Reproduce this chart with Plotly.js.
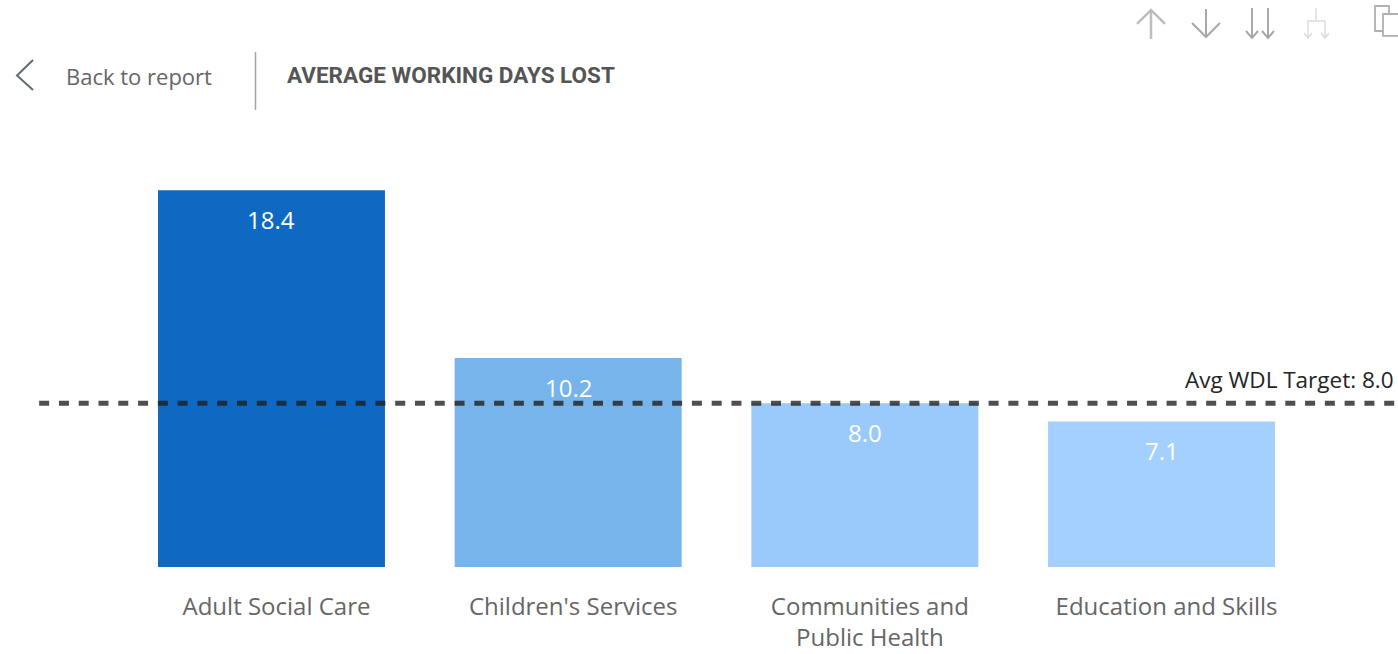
<!DOCTYPE html>
<html>
<head>
<meta charset="utf-8">
<title>Average Working Days Lost</title>
<script src="https://cdn.plot.ly/plotly-3.0.1.min.js"></script>
<style>
  html, body { margin: 0; padding: 0; background: #fff; overflow: hidden; }
  #chart { width: 1398px; height: 654px; }
</style>
</head>
<body>
<div id="chart"></div>
<script>
const departments = ["Adult Social Care", "Children's Services", "Communities and<br>Public Health", "Education and Skills"];
const positions = [0, 1, 2, 3];
const workingDaysLost = [18.4, 10.2, 8.0, 7.1];
const barColors = ["#0F69C2", "#78B4EC", "#99CAFB", "#A3D0FF"];
const targetValue = 8.0;
const targetLabel = "Avg WDL Target: " + targetValue.toFixed(1);
const targetSpan = [-0.783, 3.85];

const W = 1398, H = 654, BASE = 567.5;
const px = v => (v / W).toFixed(5);
const py = v => ((BASE - v) / BASE).toFixed(5);

// Polyline in page pixels, used for the report toolbar glyphs.
function pathShape(points, color, width) {
  const d = points.map((p, i) => (i ? "L" : "M") + px(p[0]) + "," + py(p[1])).join(" ");
  return { type: "path", xref: "paper", yref: "paper", path: d,
           line: { color, width }, layer: "above" };
}

const ICON = "#BDBDBD", ICON_DARK = "#A8A8A8", ICON_PALE = "#DCDCDC";
const chromeShapes = [
  // back chevron and header divider
  pathShape([[33, 60], [17, 75.5], [33, 90]], "#5F6B78", 2),
  pathShape([[255.5, 52], [255.5, 110]], "#A6A6A6", 1.5),
  // up arrow
  pathShape([[1151, 39], [1151, 10]], ICON, 2.5),
  pathShape([[1137, 24], [1151, 10], [1165, 24]], ICON, 2.5),
  // down arrow
  pathShape([[1206, 9], [1206, 37]], ICON_DARK, 2),
  pathShape([[1192, 23], [1206, 37], [1220, 23]], ICON_DARK, 2),
  // double down arrow
  pathShape([[1252, 8], [1252, 37]], ICON_DARK, 2),
  pathShape([[1246, 31], [1252, 38], [1258, 31]], ICON_DARK, 2),
  pathShape([[1268, 8], [1268, 37]], ICON_DARK, 2),
  pathShape([[1262, 31], [1268, 38], [1274, 31]], ICON_DARK, 2),
  // expand hierarchy
  pathShape([[1316, 8], [1316, 21]], ICON_PALE, 1.5),
  pathShape([[1308, 37], [1308, 21], [1325, 21], [1325, 37]], ICON_PALE, 1.5),
  pathShape([[1304, 33], [1308, 38], [1312, 33]], ICON_PALE, 1.5),
  pathShape([[1321, 33], [1325, 38], [1329, 33]], ICON_PALE, 1.5),
  // copy glyph
  pathShape([[1383, 31], [1375, 31], [1375, 6], [1389, 6], [1389, 13]], "#B0B0B0", 1.8),
  pathShape([[1398, 14], [1383, 14], [1383, 36], [1398, 36]], "#B0B0B0", 1.8)
];

const bars = {
  type: "bar",
  x: positions,
  y: workingDaysLost,
  width: 0.765,
  marker: { color: barColors, line: { width: 0 } },
  hoverinfo: "skip",
  showlegend: false
};

const target = {
  type: "scatter",
  mode: "lines",
  x: targetSpan,
  y: [targetValue, targetValue],
  line: { color: "rgba(30,30,30,0.78)", width: 5, dash: "10px,9.78px" },
  hoverinfo: "skip",
  showlegend: false
};

const valueLabels = workingDaysLost.map((v, i) => ({
  x: positions[i], y: v, xref: "x", yref: "y",
  text: v.toFixed(1), showarrow: false,
  yanchor: "middle", yshift: -29,
  font: { family: "Open Sans, sans-serif", size: 24, color: "#FFFFFF" }
}));

const headerLabels = [
  { text: "Back to report", xref: "paper", yref: "paper", x: 64 / W, y: (BASE - 76) / BASE,
    xanchor: "left", yanchor: "middle", showarrow: false,
    font: { family: "Open Sans, sans-serif", size: 22, color: "#666666" } },
  { text: "<b>AVERAGE WORKING DAYS LOST</b>", xref: "paper", yref: "paper", x: 285 / W, y: (BASE - 75) / BASE,
    xanchor: "left", yanchor: "middle", showarrow: false,
    font: { family: "Roboto, sans-serif", size: 22.5, color: "#555555" } },
  { text: targetLabel, xref: "paper", yref: "y", x: 1396 / W, y: targetValue,
    xanchor: "right", yanchor: "middle", yshift: 24, showarrow: false,
    font: { family: "Open Sans, sans-serif", size: 22.5, color: "#252525" } }
];

const layout = {
  width: W, height: H,
  margin: { l: 0, r: 0, t: 0, b: H - BASE, pad: 0 },
  paper_bgcolor: "#FFFFFF",
  plot_bgcolor: "#FFFFFF",
  showlegend: false,
  xaxis: {
    range: [-0.915, 3.797],
    tickmode: "array",
    tickvals: positions,
    ticktext: departments,
    ticks: "",
    ticklabelshift: 5,
    ticklabelstandoff: 23,
    showgrid: false, zeroline: false, showline: false,
    tickfont: { family: "Open Sans, sans-serif", size: 24, color: "#666666" }
  },
  yaxis: {
    range: [0, BASE / 20.5],
    showgrid: false, zeroline: false, showline: false, showticklabels: false, ticks: ""
  },
  shapes: chromeShapes,
  annotations: valueLabels.concat(headerLabels)
};

Plotly.newPlot("chart", [bars, target], layout, { displayModeBar: false, staticPlot: true });
</script>
</body>
</html>
